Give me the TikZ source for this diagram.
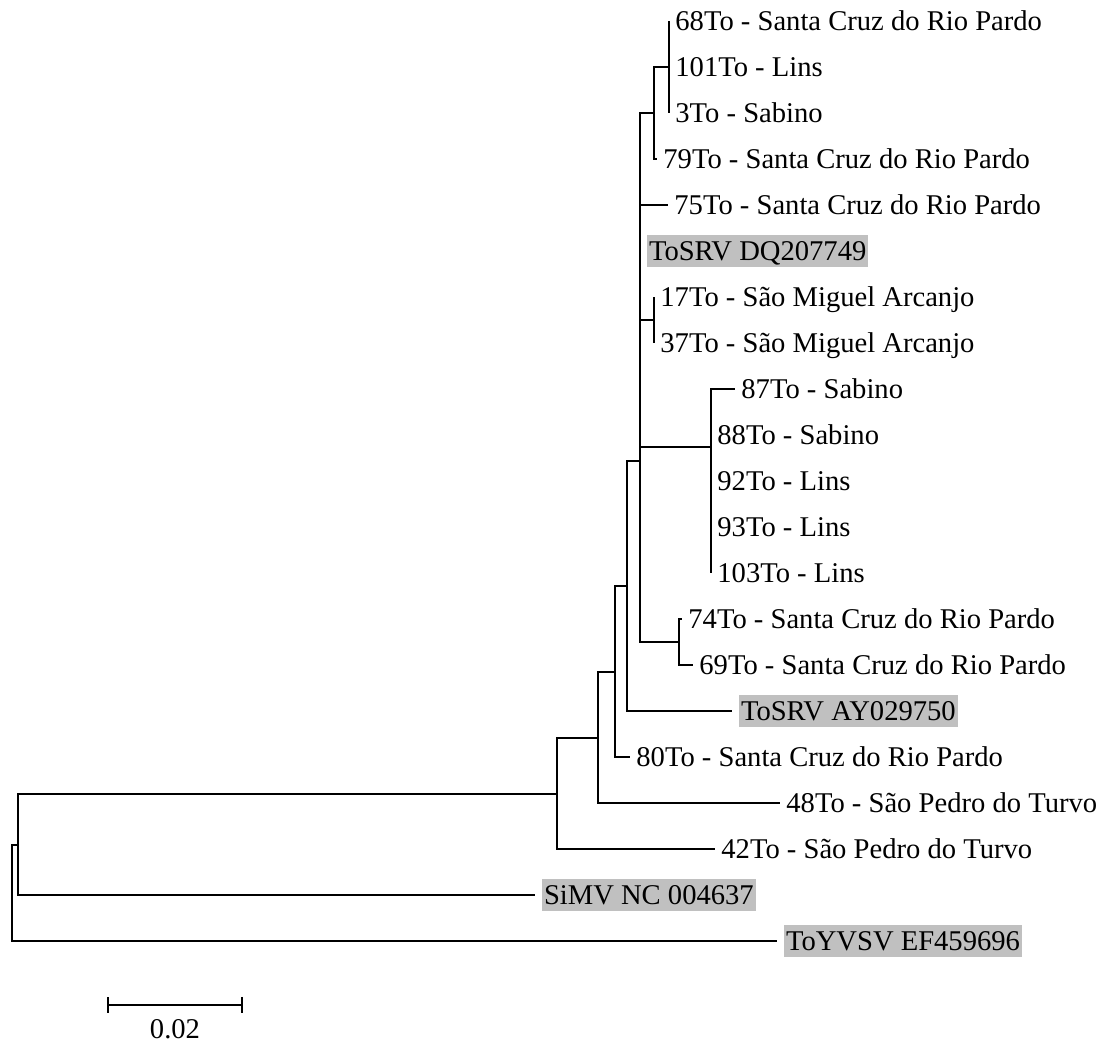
\documentclass[tikz,border=0pt]{standalone}
\usepackage{fontspec}
\setmainfont{Liberation Serif}
\usetikzlibrary{arrows.meta}
\definecolor{rotulo}{RGB}{192,192,192}

\begin{document}
\begin{tikzpicture}[x=0.5pt, y=-0.5pt,
    ramo/.style={black, line width=1pt},
    folha/.style={anchor=west, inner xsep=3.2pt, inner ysep=1pt, outer sep=0pt,
        text height=11.5pt, text depth=2.5pt, font=\fontsize{14.3}{16}\selectfont},
    ref/.style={folha, fill=rotulo, inner xsep=1pt, outer xsep=3.5pt}]
    \useasboundingbox (0,0) rectangle (1099,1042);

    % Nos internos
    \coordinate (R) at (12,893);
    \coordinate (A) at (18,844.6);
    \coordinate (B) at (557,793.6);
    \coordinate (C) at (598,737.7);
    \coordinate (D) at (615,672);
    \coordinate (E) at (627,586.4);
    \coordinate (F) at (640,461.4);
    \coordinate (X) at (640,280.25);
    \coordinate (H) at (654,113.5);
    \coordinate (K) at (669,67.5);
    \coordinate (I) at (654,320.5);
    \coordinate (J) at (711,447);
    \coordinate (J2) at (711,504.5);
    \coordinate (G) at (679,642.5);

    % Folhas
    \node[folha] (n68) at (669,21.5) {68To - Santa Cruz do Rio Pardo};
    \node[folha] (n101) at (669,67.5) {101To - Lins};
    \node[folha] (n3) at (669,113.5) {3To - Sabino};
    \node[folha] (n79) at (657,159.5) {79To - Santa Cruz do Rio Pardo};
    \node[folha] (n75) at (668,205.5) {75To - Santa Cruz do Rio Pardo};
    \node[ref] (dq) at (640,251.5) {ToSRV DQ207749};
    \node[folha] (n17) at (654,297.5) {17To - São Miguel Arcanjo};
    \node[folha] (n37) at (654,343.5) {37To - São Miguel Arcanjo};
    \node[folha] (n87) at (735,389.5) {87To - Sabino};
    \node[folha] (n88) at (711,435.5) {88To - Sabino};
    \node[folha] (n92) at (711,481.5) {92To - Lins};
    \node[folha] (n93) at (711,527.5) {93To - Lins};
    \node[folha] (n103) at (711,573.5) {103To - Lins};
    \node[folha] (n74) at (682,619.5) {74To - Santa Cruz do Rio Pardo};
    \node[folha] (n69) at (693,665.5) {69To - Santa Cruz do Rio Pardo};
    \node[ref] (ay) at (732,711.5) {ToSRV AY029750};
    \node[folha] (n80) at (630,757.5) {80To - Santa Cruz do Rio Pardo};
    \node[folha] (n48) at (780,803.5) {48To - São Pedro do Turvo};
    \node[folha] (n42) at (715,849.5) {42To - São Pedro do Turvo};
    \node[ref] (simv) at (535,895.5) {SiMV NC 004637};
    \node[ref] (toyvsv) at (777,941.5) {ToYVSV EF459696};

    % Ramos
    \draw[ramo] (R) |- (A) (R) |- (toyvsv.west);
    \draw[ramo] (A) |- (B) (A) |- (simv.west);
    \draw[ramo] (B) |- (C) (B) |- (n42.west);
    \draw[ramo] (C) |- (D) (C) |- (n48.west);
    \draw[ramo] (D) |- (E) (D) |- (n80.west);
    \draw[ramo] (E) |- (F) (E) |- (ay.west);
    \draw[ramo] (F) |- (X) (F) |- (G);
    \draw[ramo] (X) |- (H) (X) |- (n75.west) (X) |- (dq.west) (X) |- (I) (X) |- (J);
    \draw[ramo] (H) |- (K) (H) |- (n79.west);
    \draw[ramo] (K) |- (n68.west) (K) |- (n101.west) (K) |- (n3.west);
    \draw[ramo] (I) |- (n17.west) (I) |- (n37.west);
    \draw[ramo] (J) |- (n87.west) (J) |- (J2);
    \draw[ramo] (J2) |- (n88.west) (J2) |- (n92.west) (J2) |- (n93.west) (J2) |- (n103.west);
    \draw[ramo] (G) |- (n74.west) (G) |- (n69.west);

    % Escala
    \coordinate (eL) at (107,1005);
    \coordinate (eR) at (243,1005);
    \draw[ramo, {Bar[width=8pt]}-{Bar[width=8pt]}] (eL) -- (eR);
    \node[font=\fontsize{14.3}{16}\selectfont, inner sep=0pt] (escala) at (175,1029) {0.02};
\end{tikzpicture}
\end{document}
